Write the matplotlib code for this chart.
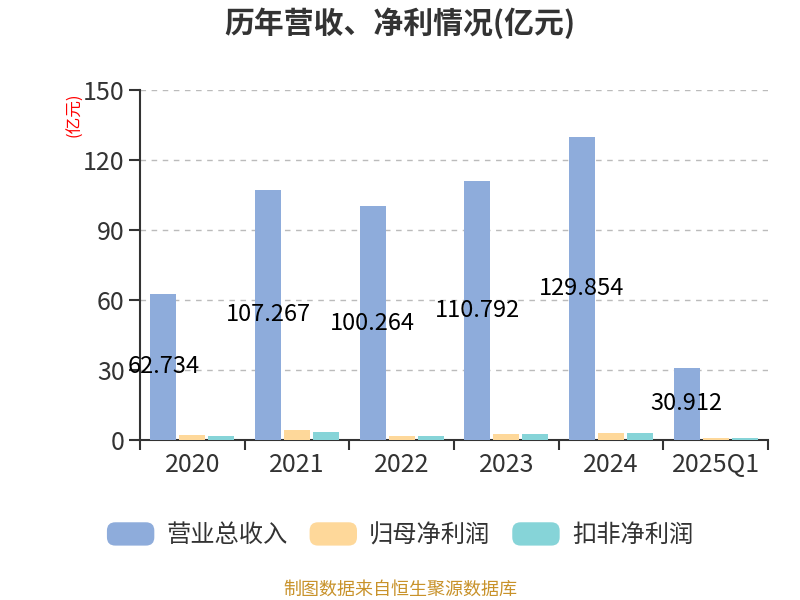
import matplotlib
matplotlib.use('Agg')
import matplotlib.pyplot as plt
import numpy as np
from matplotlib.patches import FancyBboxPatch, Patch
from matplotlib.legend_handler import HandlerPatch

plt.rcParams['font.family'] = ['Noto Sans CJK SC', 'DejaVu Sans']

years = ['2020', '2021', '2022', '2023', '2024', '2025Q1']
revenue = [62.734, 107.267, 100.264, 110.792, 129.854, 30.912]
net_profit = [2.2, 4.3, 1.7, 2.7, 3.1, 1.0]
net_profit_ex = [1.9, 3.4, 1.7, 2.5, 3.1, 0.7]

series_names = ['营业总收入', '归母净利润', '扣非净利润']
colors = ['#8eacdb', '#fed89a', '#86d4d8']


class RoundHandler(HandlerPatch):
    def create_artists(self, legend, orig_handle, xdescent, ydescent,
                       width, height, fontsize, trans):
        p = FancyBboxPatch((-xdescent, -ydescent), width, height,
                           boxstyle='round,pad=0,rounding_size=6',
                           facecolor=orig_handle.get_facecolor(),
                           edgecolor='none', transform=trans)
        return [p]


fig = plt.figure(figsize=(8, 6), dpi=100)
ax = fig.add_axes([0.175, 0.2667, 0.785, 0.5833])

x = np.arange(len(years))
w = 0.25
step = 0.277
for k, (vals, c) in enumerate(zip([revenue, net_profit, net_profit_ex], colors)):
    ax.bar(x + (k - 1) * step, vals, width=w, color=c, zorder=3)

# value labels sit at mid-height of the revenue bars
for xi, v in zip(x, revenue):
    ax.text(xi - step, v / 2, f'{v:.3f}', ha='center', va='center', fontsize=17, color='black', zorder=5)

ax.set_xlim(-0.5, len(years) - 0.5)
ax.set_ylim(0, 150)
ax.set_yticks([0, 30, 60, 90, 120, 150])
ax.set_xticks(x)
ax.set_xticklabels(years)
ax.set_xticks(np.arange(-0.5, len(years), 1), minor=True)
ax.tick_params(axis='x', which='major', length=0, labelsize=18, colors='#333333', pad=9)
ax.tick_params(axis='x', which='minor', length=7, width=1.5, color='#333333')
ax.tick_params(axis='y', length=8, width=1.5, color='#333333', labelsize=18, labelcolor='#333333', pad=3)

ax.grid(axis='y', linestyle=(0, (4, 4)), color='#bbbbbb', linewidth=1, zorder=0)
for s in ['top', 'right']:
    ax.spines[s].set_visible(False)
for s in ['left', 'bottom']:
    ax.spines[s].set_color('#333333')
    ax.spines[s].set_linewidth(1.5)

fig.text(0.094, 0.808, '(亿元)', rotation=90, color='red', fontsize=12, ha='center', va='center')

fig.text(0.5, 0.962, '历年营收、净利情况(亿元)', ha='center', va='center', fontsize=21.5,
         fontweight='bold', color='#333333')

handles = [Patch(facecolor=c) for c in colors]
leg = fig.legend(handles=handles, labels=series_names, loc='center', bbox_to_anchor=(0.5, 0.108),
                 ncol=3, frameon=False, fontsize=17.5, handlelength=1.95, handleheight=1.1,
                 handletextpad=0.5, columnspacing=0.9,
                 handler_map={Patch: RoundHandler()})
for t in leg.get_texts():
    t.set_color('#333333')

fig.text(0.5, 0.017, '制图数据来自恒生聚源数据库', ha='center', va='center', fontsize=13, color='#c8922a')

fig.savefig('out.png', dpi=100)
